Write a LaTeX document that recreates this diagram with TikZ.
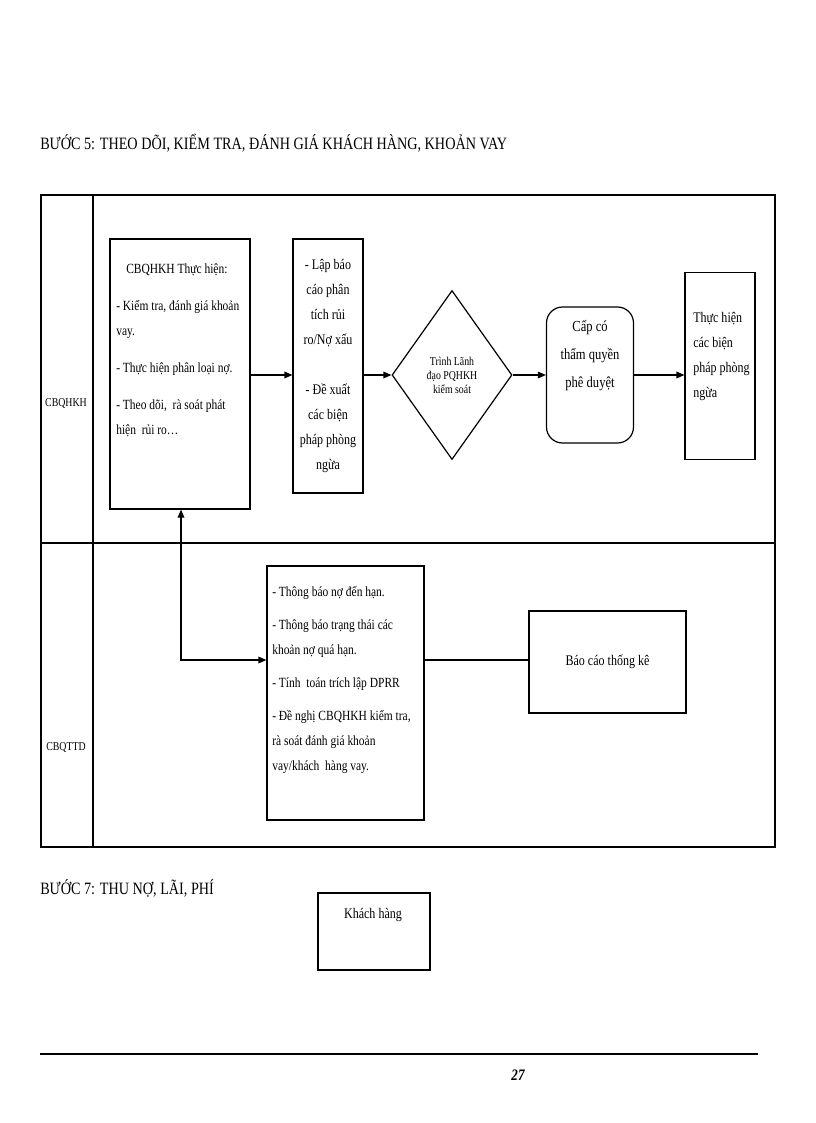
\documentclass[tikz,border=0pt]{standalone}
\usepackage{fontspec}
\setmainfont{Liberation Serif}[FakeStretch=0.82]
\usetikzlibrary{shapes.geometric,arrows.meta}
\newdimen\pxu \pxu=0.75pt
\begin{document}
\begin{tikzpicture}[x=0.75pt,y=-0.75pt,
  box/.style={draw,line width=0.9pt,inner sep=0pt},
  txt/.style={font=\fontsize{11}{18.75}\selectfont,inner sep=0pt},
  arr/.style={line width=0.9pt,-{Triangle[length=6pt,width=5pt]}},
  ln/.style={line width=0.9pt}]
\useasboundingbox (0,0) rectangle (816,1123);
\node[anchor=west,font=\fontsize{13}{15}\selectfont,inner sep=0pt] (t5) at (40,143) {BƯỚC 5: THEO DÕI, KIỂM TRA, ĐÁNH GIÁ KHÁCH HÀNG, KHOẢN VAY};
% frame
\draw[ln] (41,195) rectangle (775,847);
\draw[ln] (93,195) -- (93,847);
\draw[ln] (41,543) -- (775,543);
\node[inner sep=0pt,font=\fontsize{9}{11}\selectfont] (l1) at (66,403) {CBQHKH};
\node[inner sep=0pt,font=\fontsize{9}{11}\selectfont] (l2) at (66,747) {CBQTTD};
% lane 1
\node[box,minimum width=140\pxu,minimum height=270\pxu] (b1) at (180,374) {};
\node[txt,anchor=north west,align=left,font=\fontsize{10.5}{18.75}\selectfont] (b1t) at (116,263) {\hspace{10\pxu}CBQHKH Thực hiện:\\[9pt]- Kiểm tra, đánh giá khoản\\vay.\\[9pt]- Thực hiện phân loại nợ.\\[9pt]- Theo dõi,\ \ rà soát phát\\hiện\ \ rủi ro…};
\node[box,minimum width=70\pxu,minimum height=254\pxu,align=center,txt] (b2) at (328,366) {- Lập báo\\cáo phân\\tích rủi\\ro/Nợ xấu\\[18.75pt]- Đề xuất\\các biện\\pháp phòng\\ngừa};
\node[diamond,draw,line width=0.9pt,minimum width=120\pxu,minimum height=169\pxu,inner sep=0pt,aspect=0.71,align=center,font=\fontsize{9}{10.5}\selectfont] (d) at (452,375) {Trình Lãnh\\đạo PQHKH\\kiểm soát};
\node[box,rounded corners=12pt,minimum width=87\pxu,minimum height=136\pxu,align=center,font=\fontsize{11.5}{21}\selectfont] (r) at (590,375) {Cấp có\\thẩm quyền\\phê duyệt\\[10pt]};
\node[box,minimum width=70\pxu,minimum height=187\pxu] (b5) at (720,366) {};
\node[txt,anchor=north west,align=left] (b5t) at (693,312) {Thực hiện\\các biện\\pháp phòng\\ngừa};
\draw[arr] (b1.east |- 0,375) -- (b2.west |- 0,375);
\draw[arr] (b2.east |- 0,375) -- (d.west);
\draw[arr] (d.east) -- (r.west);
\draw[arr] (r.east) -- (b5.west |- 0,375);
% lane 2
\node[box,minimum width=157\pxu,minimum height=254\pxu] (c1) at (345.5,693) {};
\node[txt,anchor=north west,align=left,font=\fontsize{10.5}{18.75}\selectfont] (c1t) at (272,586) {- Thông\ báo nợ đến hạn.\\[6pt]- Thông\ báo trạng thái các\\khoản nợ quá hạn.\\[6pt]- Tính\ \ toán trích lập DPRR\\[6pt]- Đề nghị\ CBQHKH kiểm tra,\\rà soát đánh giá\ khoản\\vay/khách\ \ hàng vay.};
\node[box,minimum width=157\pxu,minimum height=102\pxu,txt] (c2) at (607.5,662) {Báo cáo thống kê};
\draw[ln] (c1.east |- 0,660) -- (c2.west |- 0,660);
\coordinate (k) at (181,660);
\draw[arr,{Triangle[length=6pt,width=5pt]}-{Triangle[length=6pt,width=5pt]}] (b1.south -| k) -- (k) -- (c1.west |- k);
% step 7
\node[anchor=west,font=\fontsize{13}{15}\selectfont,inner sep=0pt] (t7) at (40,888) {BƯỚC 7: THU NỢ, LÃI, PHÍ};
\node[box,minimum width=112\pxu,minimum height=77\pxu] (kh) at (374,931.5) {};
\node[txt] (kht) at (373,915) {Khách hàng};
\draw[line width=1.2pt] (40,1054) -- (758,1054);
\node[font=\bfseries\itshape\fontsize{12}{14}\selectfont,inner sep=0pt] (pg) at (518,1075) {27};
\end{tikzpicture}
\end{document}
